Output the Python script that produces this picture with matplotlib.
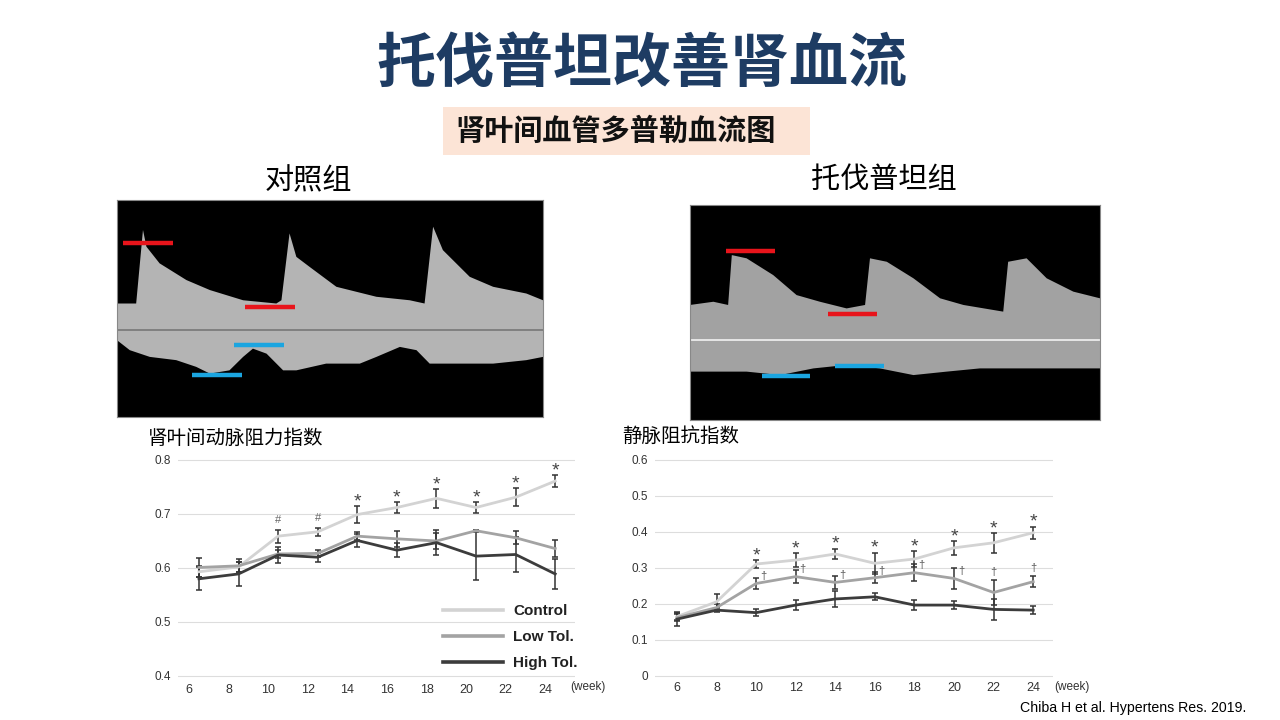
import numpy as np
import matplotlib
matplotlib.use("Agg")
import matplotlib.pyplot as plt

plt.rcParams['font.family'] = ['Liberation Sans', 'Noto Sans CJK SC', 'DejaVu Sans']
CJK = ['Noto Sans CJK SC', 'DejaVu Sans']

W, H = 1280, 720

######### data #########
weeks = [6, 8, 10, 12, 14, 16, 18, 20, 22, 24]
series_names = ['Control', 'Low Tol.', 'High Tol.']

# renal interlobar artery resistance index
ri_control = [0.593, 0.602, 0.659, 0.667, 0.699, 0.712, 0.729, 0.712, 0.731, 0.761]
ri_control_err = [0.010, 0.010, 0.012, 0.008, 0.015, 0.010, 0.017, 0.010, 0.017, 0.011]
ri_low = [0.601, 0.604, 0.626, 0.627, 0.659, 0.654, 0.650, 0.669, 0.656, 0.636]
ri_low_err = [0.018, 0.012, 0.008, 0.006, 0.008, 0.015, 0.015, 0.002, 0.012, 0.015]
ri_high = [0.580, 0.589, 0.624, 0.620, 0.651, 0.633, 0.647, 0.622, 0.625, 0.589]
ri_high_err = [0.021, 0.023, 0.014, 0.008, 0.012, 0.013, 0.023, 0.045, 0.032, 0.028]
ri_marks = ['', '', '#', '#', '*', '*', '*', '*', '*', '*']

# venous impedance index
vi_control = [0.165, 0.206, 0.311, 0.322, 0.339, 0.313, 0.325, 0.356, 0.370, 0.398]
vi_control_err = [0.010, 0.022, 0.011, 0.020, 0.015, 0.030, 0.021, 0.019, 0.028, 0.017]
vi_low = [0.162, 0.190, 0.257, 0.276, 0.260, 0.273, 0.287, 0.271, 0.232, 0.262]
vi_low_err = [0.010, 0.010, 0.015, 0.018, 0.017, 0.016, 0.024, 0.030, 0.035, 0.016]
vi_high = [0.158, 0.183, 0.176, 0.197, 0.214, 0.220, 0.197, 0.197, 0.185, 0.183]
vi_high_err = [0.019, 0.005, 0.010, 0.013, 0.023, 0.010, 0.015, 0.012, 0.030, 0.012]
vi_ctrl_marks = ['', '', '*', '*', '*', '*', '*', '*', '*', '*']
vi_low_marks = ['', '', '†', '†', '†', '†', '†', '†', '†', '†']

# doppler envelopes (fraction of image width / height)
ctrl_top = [(0, 0.523), (0.045, 0.523), (0.061, 0.862), (0.069, 0.785), (0.100, 0.708),
            (0.163, 0.631), (0.218, 0.585), (0.296, 0.538), (0.374, 0.523), (0.386, 0.538),
            (0.405, 0.846), (0.421, 0.738), (0.452, 0.692), (0.515, 0.600), (0.609, 0.554),
            (0.687, 0.538), (0.722, 0.523), (0.742, 0.877), (0.765, 0.769), (0.828, 0.646),
            (0.883, 0.600), (0.961, 0.569), (1.0, 0.538)]
ctrl_bottom = [(0, 0.354), (0.030, 0.308), (0.077, 0.277), (0.139, 0.262), (0.186, 0.231),
               (0.218, 0.200), (0.264, 0.215), (0.296, 0.277), (0.319, 0.315), (0.351, 0.292),
               (0.390, 0.215), (0.421, 0.215), (0.491, 0.246), (0.570, 0.246), (0.609, 0.277),
               (0.664, 0.323), (0.703, 0.308), (0.734, 0.246), (0.804, 0.246), (0.883, 0.246),
               (0.961, 0.262), (1.0, 0.277)]
tol_top = [(0, 0.535), (0.057, 0.550), (0.093, 0.535), (0.102, 0.767), (0.138, 0.752),
           (0.203, 0.674), (0.260, 0.581), (0.317, 0.550), (0.382, 0.519), (0.427, 0.535),
           (0.439, 0.752), (0.480, 0.736), (0.545, 0.659), (0.610, 0.566), (0.667, 0.535),
           (0.764, 0.504), (0.776, 0.736), (0.821, 0.752), (0.870, 0.659), (0.935, 0.597),
           (1.0, 0.566)]
tol_bottom = [(0, 0.225), (0.138, 0.225), (0.220, 0.209), (0.301, 0.240), (0.382, 0.256),
              (0.463, 0.240), (0.545, 0.209), (0.626, 0.225), (0.707, 0.240), (0.789, 0.240),
              (0.870, 0.240), (1.0, 0.240)]
# (x0, x1, y) markers
ctrl_red = [(0.014, 0.131, 0.803), (0.300, 0.417, 0.505)]
ctrl_blue = [(0.177, 0.293, 0.195), (0.275, 0.391, 0.334)]
tol_red = [(0.089, 0.207, 0.786), (0.337, 0.455, 0.493)]
tol_blue = [(0.175, 0.293, 0.205), (0.354, 0.473, 0.253)]

line_colors = ['#d3d3d3', '#a3a3a3', '#3c3c3c']


def box(x0, y0, x1, y1):
    return [x0 / W, 1 - y1 / H, (x1 - x0) / W, (y1 - y0) / H]


fig = plt.figure(figsize=(12.8, 7.2), dpi=100)
bg = fig.add_axes([0, 0, 1, 1])
bg.set_xlim(0, W)
bg.set_ylim(H, 0)
bg.axis('off')

bg.text(642, 65, '托伐普坦改善肾血流', family=CJK, fontsize=42.5, fontweight='bold',
        color='#1e3c63', ha='center', va='center')
bg.add_patch(plt.Rectangle((443, 107), 367, 48, color='#fce4d6', lw=0))
bg.text(616, 131, '肾叶间血管多普勒血流图', family=CJK, fontsize=21, fontweight='bold',
        color='#111111', ha='center', va='center')
bg.text(308, 181, '对照组', family=CJK, fontsize=21, ha='center', va='center')
bg.text(884, 180, '托伐普坦组', family=CJK, fontsize=21, ha='center', va='center')
bg.text(148, 438, '肾叶间动脉阻力指数', family=CJK, fontsize=14, ha='left', va='center')
bg.text(622, 436, '静脉阻抗指数', family=CJK, fontsize=14, ha='left', va='center')
bg.text(588, 687, '(week)', fontsize=8.5, color='#333333', ha='center', va='center')
bg.text(1072, 687, '(week)', fontsize=8.5, color='#333333', ha='center', va='center')
bg.text(1020, 708, 'Chiba H et al. Hypertens Res. 2019.', fontsize=10.2, ha='left', va='center')


def doppler(rect, top, bottom, reds, blues, base_y, base_color, fill_color):
    ax = fig.add_axes(box(*rect))
    ax.set_facecolor('black')
    ax.set_xlim(0, 1)
    ax.set_ylim(0, 1)
    ax.set_xticks([])
    ax.set_yticks([])
    for s in ax.spines.values():
        s.set_color('#888888')
        s.set_linewidth(0.8)
    poly = top + bottom[::-1]
    ax.fill([p[0] for p in poly], [p[1] for p in poly], color=fill_color, lw=0)
    ax.axhline(base_y, color=base_color, lw=1.2)
    for x0, x1, y in reds:
        ax.plot([x0, x1], [y, y], color='#e8141b', lw=3.2, solid_capstyle='butt')
    for x0, x1, y in blues:
        ax.plot([x0, x1], [y, y], color='#1ba5e0', lw=3.2, solid_capstyle='butt')


doppler((117, 200, 543, 417), ctrl_top, ctrl_bottom, ctrl_red, ctrl_blue, 0.40, '#777777', '#b4b4b4')
doppler((690, 205, 1100, 420), tol_top, tol_bottom, tol_red, tol_blue, 0.372, '#f2f2f2', '#a2a2a2')


def style_chart(ax, yticks):
    ax.set_facecolor('none')
    for s in ax.spines.values():
        s.set_visible(False)
    ax.set_yticks(yticks)
    ax.set_xticks(weeks)
    ax.set_yticklabels([('%.1f' % v) if v else '0' for v in yticks])
    ax.grid(axis='y', color='#dddddd', lw=0.8)
    ax.set_axisbelow(True)
    ax.tick_params(axis='y', length=0, pad=5, labelsize=8.5, labelcolor='#333333')
    ax.tick_params(axis='x', length=0, pad=2, labelsize=9, labelcolor='#333333')


def draw_series(ax, x, values, errs):
    handles = []
    for v, e, c in zip(values, errs, line_colors):
        cont = ax.errorbar(x, v, yerr=e, color=c, lw=2, ecolor='#333333',
                           elinewidth=1.1, capsize=2.5, capthick=1.1, clip_on=False)
        handles.append(cont.lines[0])
    return handles


def star(ax, x, y):
    ax.annotate('*', (x, y), xytext=(0, 3), textcoords='offset points',
                ha='center', va='center', fontsize=14, color='#444444')


# left chart: resistance index
OFFSET = 0.5
ax1 = fig.add_axes(box(178, 460 - 5.4, 575, 676 + 5.4))
ax1.set_xlim(5.44, 25.5)
ax1.set_ylim(0.39, 0.81)
style_chart(ax1, [0.4, 0.5, 0.6, 0.7, 0.8])
x1 = [w + OFFSET for w in weeks]
h = draw_series(ax1, x1, [ri_control, ri_low, ri_high], [ri_control_err, ri_low_err, ri_high_err])
for xi, v, e, m in zip(x1, ri_control, ri_control_err, ri_marks):
    if m == '*':
        star(ax1, xi, v + e)
    elif m:
        ax1.annotate(m, (xi, v + e), xytext=(0, 3), textcoords='offset points',
                     ha='center', va='bottom', fontsize=8, color='#666666')
leg = ax1.legend(h, series_names, loc='upper left', bbox_to_anchor=(443 / W, 1 - 604 / H),
                 bbox_transform=fig.transFigure, frameon=False, borderpad=0, borderaxespad=0,
                 handlelength=3.9, handletextpad=0.7, labelspacing=0.8,
                 prop={'weight': 'bold', 'size': 11})
for ln in leg.get_lines():
    ln.set_linewidth(2.6)
for t in leg.get_texts():
    t.set_color('#222222')

# right chart: venous impedance index
ax2 = fig.add_axes(box(655, 460 - 3.6, 1053, 676 + 3.6))
ax2.set_xlim(4.89, 25.0)
ax2.set_ylim(-0.01, 0.61)
style_chart(ax2, [0, 0.1, 0.2, 0.3, 0.4, 0.5, 0.6])
draw_series(ax2, weeks, [vi_control, vi_low, vi_high], [vi_control_err, vi_low_err, vi_high_err])
for xi, v, e, m in zip(weeks, vi_control, vi_control_err, vi_ctrl_marks):
    if m:
        star(ax2, xi, v + e)
for xi, v, e, m in zip(weeks, vi_low, vi_low_err, vi_low_marks):
    if not m:
        continue
    if xi >= 22:
        ax2.annotate(m, (xi, v + e), xytext=(0, 2), textcoords='offset points',
                     ha='center', va='bottom', fontsize=8, color='#555555')
    else:
        ax2.annotate(m, (xi, v + 0.02), xytext=(5, 0), textcoords='offset points',
                     ha='center', va='center', fontsize=8, color='#555555')

fig.savefig('out.png', dpi=100)
